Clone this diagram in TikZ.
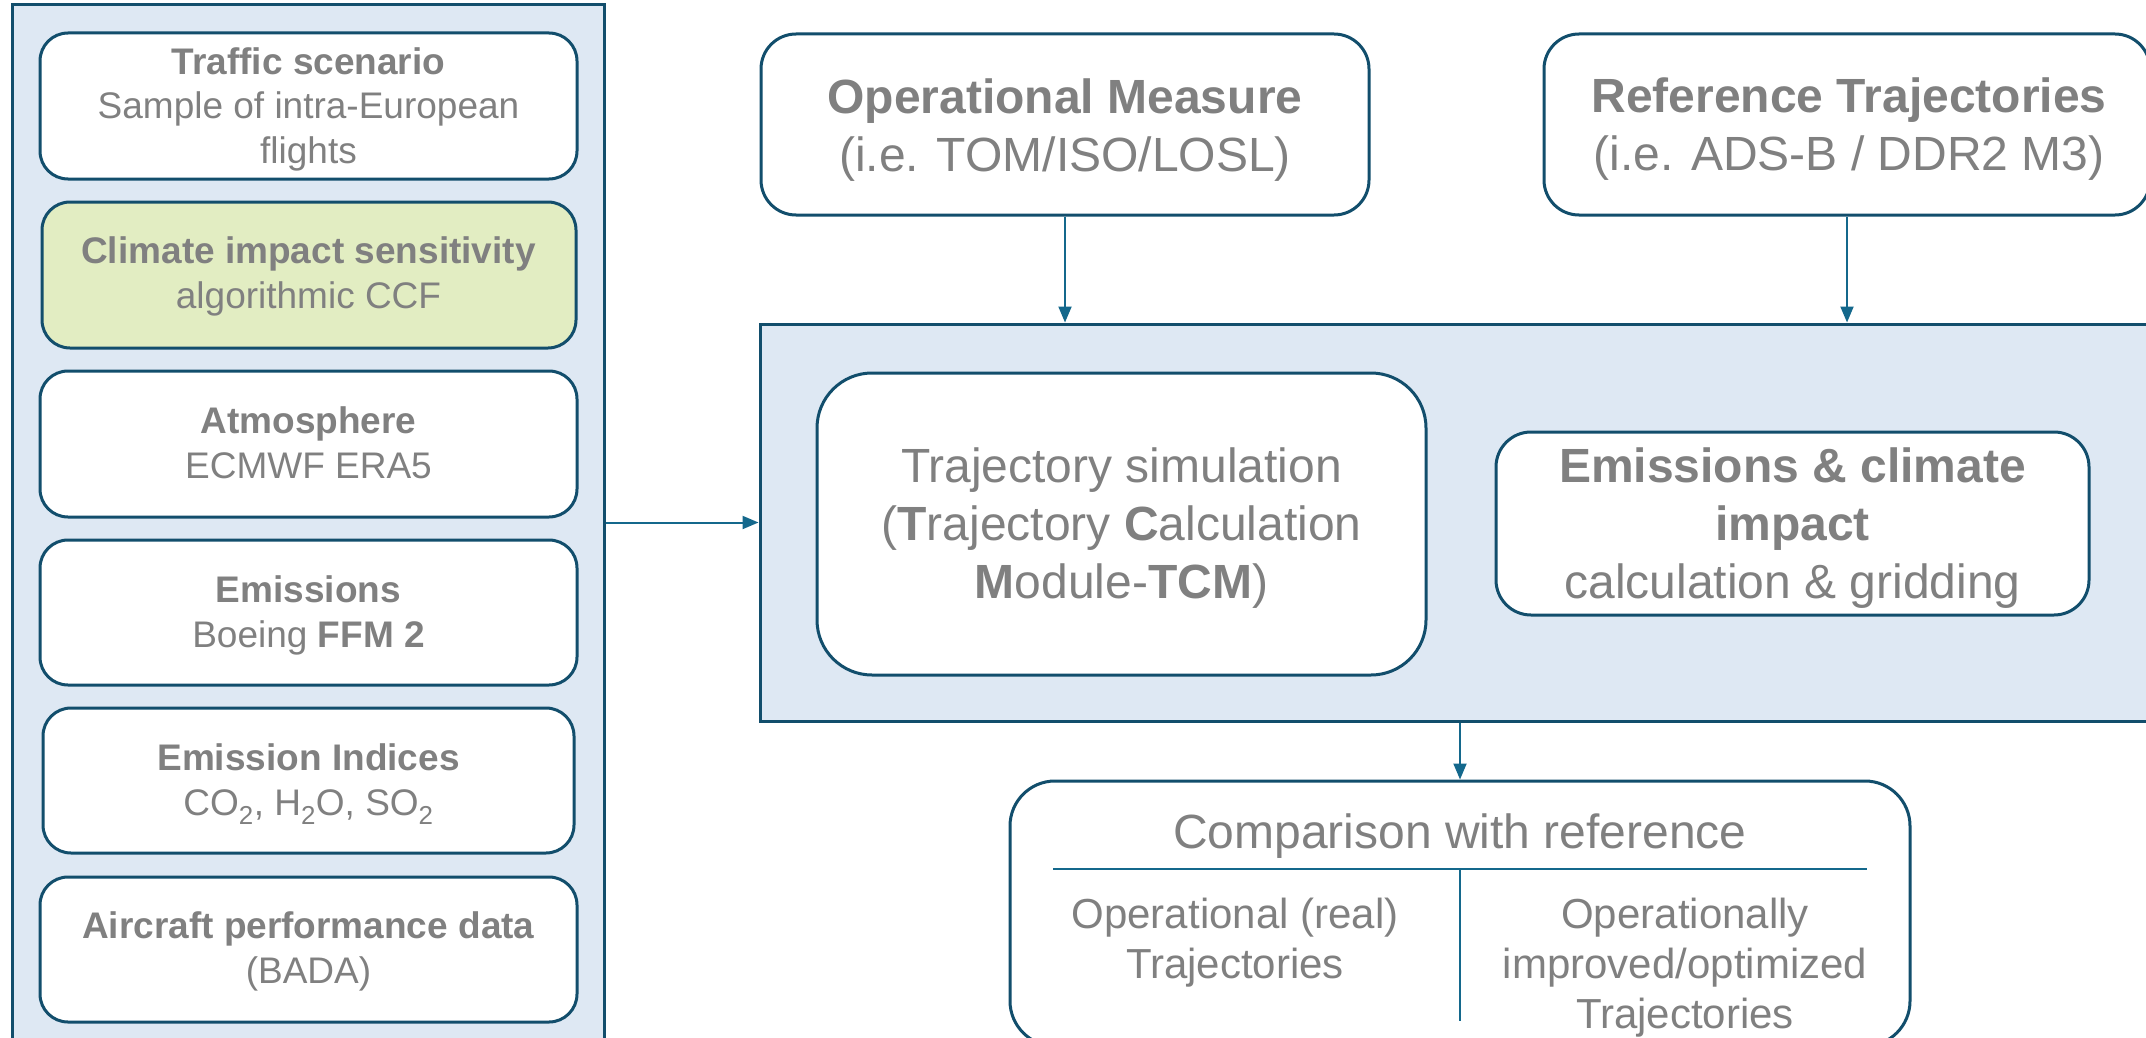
\documentclass[tikz,border=0pt]{standalone}
\usepackage{fontspec}
\setmainfont{Liberation Sans}
\usetikzlibrary{arrows.meta}
\definecolor{panelfill}{RGB}{222,232,243}
\definecolor{edgec}{RGB}{18,78,108}
\definecolor{arrowc}{RGB}{20,104,140}
\definecolor{txtc}{RGB}{128,128,128}
\definecolor{greenfill}{RGB}{226,237,194}
\tikzset{
  panelbox/.style={draw=edgec, line width=3pt, fill=panelfill, inner sep=0pt},
  itembox/.style={draw=edgec, line width=3pt, fill=white, inner sep=0pt, rounded corners=28pt},
  txtL/.style={text=txtc, align=center, anchor=base, inner sep=0pt, font=\fontsize{37}{44.4}\selectfont},
  txtM/.style={text=txtc, align=center, anchor=base, inner sep=0pt, font=\fontsize{48}{57.6}\selectfont},
  txtS/.style={text=txtc, align=center, anchor=base, inner sep=0pt, font=\fontsize{42}{50}\selectfont},
  conn/.style={draw=arrowc, line width=2pt, -{Triangle[length=16pt,width=13pt]}},
  divline/.style={draw=arrowc, line width=1.5pt}
}
\begin{document}
\begin{tikzpicture}[x=1pt,y=-1pt]
\clip (0,0) rectangle (2146,1038);
\fill[white] (0,0) rectangle (2146,1038);
% left input panel
\node[panelbox, minimum width=592pt, minimum height=1040pt] (inputs) at (308,525) {};
\node[itembox, minimum width=537pt, minimum height=146pt] (traffic) at (308.5,106) {};
\node[itembox, fill=greenfill, minimum width=534pt, minimum height=146pt] (climate) at (309,275) {};
\node[itembox, minimum width=537pt, minimum height=146pt] (atmo) at (308.5,444) {};
\node[itembox, minimum width=537pt, minimum height=145pt] (emis) at (308.5,612.5) {};
\node[itembox, minimum width=531pt, minimum height=145pt] (ei) at (308.5,780.5) {};
\node[itembox, minimum width=537pt, minimum height=145pt] (acp) at (308.5,949.5) {};
% texts anchored at the baseline of their last line
\node[txtL] (ttraffic) at (308.5,163) {\textbf{Traffic scenario}\\Sample of intra-European\\flights};
\node[txtL] (tclimate) at (308.5,308) {\textbf{Climate impact sensitivity}\\algorithmic CCF};
\node[txtL] (tatmo) at (308.5,478) {\textbf{Atmosphere}\\ECMWF ERA5};
\node[txtL] (temis) at (308.5,647) {\textbf{Emissions}\\Boeing \textbf{FFM 2}};
\node[txtL] (tei) at (308.5,815) {\textbf{Emission Indices}\\CO\textsubscript{2}, H\textsubscript{2}O, SO\textsubscript{2}};
\node[txtL] (tacp) at (308.5,983) {\textbf{Aircraft performance data}\\(BADA)};
% top boxes
\node[itembox, rounded corners=35pt, minimum width=608pt, minimum height=181pt] (op) at (1065,124.5) {};
\node[itembox, rounded corners=35pt, minimum width=606pt, minimum height=181pt] (ref) at (1847,124.5) {};
\node[txtM] (top) at (1065,171) {\textbf{Operational Measure}\\(i.e. TOM/ISO/LOSL)};
\node[txtM] (tref) at (1849,170) {\textbf{Reference Trajectories}\\(i.e. ADS-B / DDR2 M3)};
% middle process panel
\node[panelbox, minimum width=1400pt, minimum height=397pt] (proc) at (1460,522.5) {};
\node[itembox, rounded corners=55pt, minimum width=609pt, minimum height=302pt] (traj) at (1121.5,524) {};
\node[itembox, rounded corners=35pt, minimum width=593pt, minimum height=183pt] (emcl) at (1792.5,523.5) {};
\node[txtM] (ttraj) at (1121.5,598) {Trajectory simulation\\(\textbf{T}rajectory \textbf{C}alculation\\\textbf{M}odule-\textbf{TCM})};
\node[txtM] (temcl) at (1792.5,598) {\textbf{Emissions \& climate}\\\textbf{impact}\\calculation \& gridding};
% comparison box
\node[itembox, rounded corners=45pt, minimum width=900pt, minimum height=265pt] (comp) at (1460,913.5) {};
\node[txtM] (tcomp) at (1460,848) {Comparison with reference};
\draw[divline] (1053,869) -- (1867,869);
\draw[divline] (1460,869) -- (1460,1021);
\node[txtS] (treal) at (1235,978) {Operational (real)\\Trajectories};
\node[txtS] (topt) at (1685,1028) {Operationally\\improved/optimized\\Trajectories};
% connectors
\draw[conn] (inputs.east |- proc.west) -- (proc.west);
\draw[conn] (op.south) -- (op.south |- proc.north);
\draw[conn] (ref.south) -- (ref.south |- proc.north);
\draw[conn] (proc.south) -- (comp.north);
\end{tikzpicture}
\end{document}
